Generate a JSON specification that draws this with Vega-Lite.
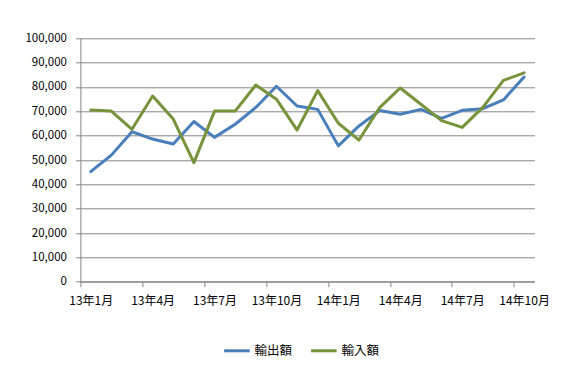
{
  "$schema": "https://vega.github.io/schema/vega-lite/v6.json",
  "autosize": "none",
  "width": 454,
  "height": 243.4,
  "padding": {"left": 80.4, "top": 38.3, "right": 33.6, "bottom": 99.3},
  "background": "#ffffff",
  "config": {
    "view": {"stroke": null},
    "font": "Noto Sans CJK JP",
    "axis": {"labelFont": "Noto Sans CJK JP", "labelColor": "#000000"},
    "legend": {"labelFont": "Noto Sans CJK JP"}
  },
  "data": {
    "values": [
      {"month": "13年1月", "series": "輸出額", "value": 45200},
      {"month": "13年2月", "series": "輸出額", "value": 52000},
      {"month": "13年3月", "series": "輸出額", "value": 61600},
      {"month": "13年4月", "series": "輸出額", "value": 58600},
      {"month": "13年5月", "series": "輸出額", "value": 56600},
      {"month": "13年6月", "series": "輸出額", "value": 65800},
      {"month": "13年7月", "series": "輸出額", "value": 59300},
      {"month": "13年8月", "series": "輸出額", "value": 64700},
      {"month": "13年9月", "series": "輸出額", "value": 71600},
      {"month": "13年10月", "series": "輸出額", "value": 80300},
      {"month": "13年11月", "series": "輸出額", "value": 72200},
      {"month": "13年12月", "series": "輸出額", "value": 70800},
      {"month": "14年1月", "series": "輸出額", "value": 55800},
      {"month": "14年2月", "series": "輸出額", "value": 64000},
      {"month": "14年3月", "series": "輸出額", "value": 70300},
      {"month": "14年4月", "series": "輸出額", "value": 68800},
      {"month": "14年5月", "series": "輸出額", "value": 70800},
      {"month": "14年6月", "series": "輸出額", "value": 67100},
      {"month": "14年7月", "series": "輸出額", "value": 70400},
      {"month": "14年8月", "series": "輸出額", "value": 71100},
      {"month": "14年9月", "series": "輸出額", "value": 74700},
      {"month": "14年10月", "series": "輸出額", "value": 84100},
      {"month": "13年1月", "series": "輸入額", "value": 70500},
      {"month": "13年2月", "series": "輸入額", "value": 70100},
      {"month": "13年3月", "series": "輸入額", "value": 62600},
      {"month": "13年4月", "series": "輸入額", "value": 76300},
      {"month": "13年5月", "series": "輸入額", "value": 66800},
      {"month": "13年6月", "series": "輸入額", "value": 48900},
      {"month": "13年7月", "series": "輸入額", "value": 70100},
      {"month": "13年8月", "series": "輸入額", "value": 70100},
      {"month": "13年9月", "series": "輸入額", "value": 80800},
      {"month": "13年10月", "series": "輸入額", "value": 75000},
      {"month": "13年11月", "series": "輸入額", "value": 62300},
      {"month": "13年12月", "series": "輸入額", "value": 78500},
      {"month": "14年1月", "series": "輸入額", "value": 65100},
      {"month": "14年2月", "series": "輸入額", "value": 58200},
      {"month": "14年3月", "series": "輸入額", "value": 71500},
      {"month": "14年4月", "series": "輸入額", "value": 79600},
      {"month": "14年5月", "series": "輸入額", "value": 72900},
      {"month": "14年6月", "series": "輸入額", "value": 66200},
      {"month": "14年7月", "series": "輸入額", "value": 63400},
      {"month": "14年8月", "series": "輸入額", "value": 71600},
      {"month": "14年9月", "series": "輸入額", "value": 82700},
      {"month": "14年10月", "series": "輸入額", "value": 85800}
    ]
  },
  "mark": {"type": "line", "strokeWidth": 3, "strokeCap": "round", "strokeJoin": "round"},
  "encoding": {
    "x": {
      "field": "month",
      "type": "ordinal",
      "sort": null,
      "scale": {"type": "point", "padding": 0.5},
      "axis": {
        "title": null,
        "values": ["13年1月", "13年4月", "13年7月", "13年10月", "14年1月", "14年4月", "14年7月", "14年10月"],
        "labelAngle": 0,
        "labelFontSize": 12,
        "labelPadding": 9,
        "tickOffset": -10.32,
        "labelOffset": 10.32,
        "tickSize": 5,
        "tickColor": "#868686",
        "domainColor": "#868686",
        "grid": false
      }
    },
    "y": {
      "field": "value",
      "type": "quantitative",
      "scale": {"domain": [0, 100000], "nice": false},
      "axis": {
        "title": null,
        "values": [0, 10000, 20000, 30000, 40000, 50000, 60000, 70000, 80000, 90000, 100000],
        "format": ",d",
        "labelFontSize": 11.5,
        "labelPadding": 9,
        "tickSize": 5,
        "tickColor": "#868686",
        "domainColor": "#868686",
        "grid": true,
        "gridColor": "#868686",
        "gridWidth": 1
      }
    },
    "color": {
      "field": "series",
      "type": "nominal",
      "sort": ["輸出額", "輸入額"],
      "scale": {"domain": ["輸出額", "輸入額"], "range": ["#4A7EBB", "#77933C"]},
      "legend": {
        "title": null,
        "orient": "none",
        "direction": "horizontal",
        "legendX": 142,
        "legendY": 298,
        "labelFontSize": 12.5,
        "symbolStrokeWidth": 3,
        "symbolSize": 650,
        "columnPadding": 12,
        "labelOffset": 3
      }
    }
  }
}
